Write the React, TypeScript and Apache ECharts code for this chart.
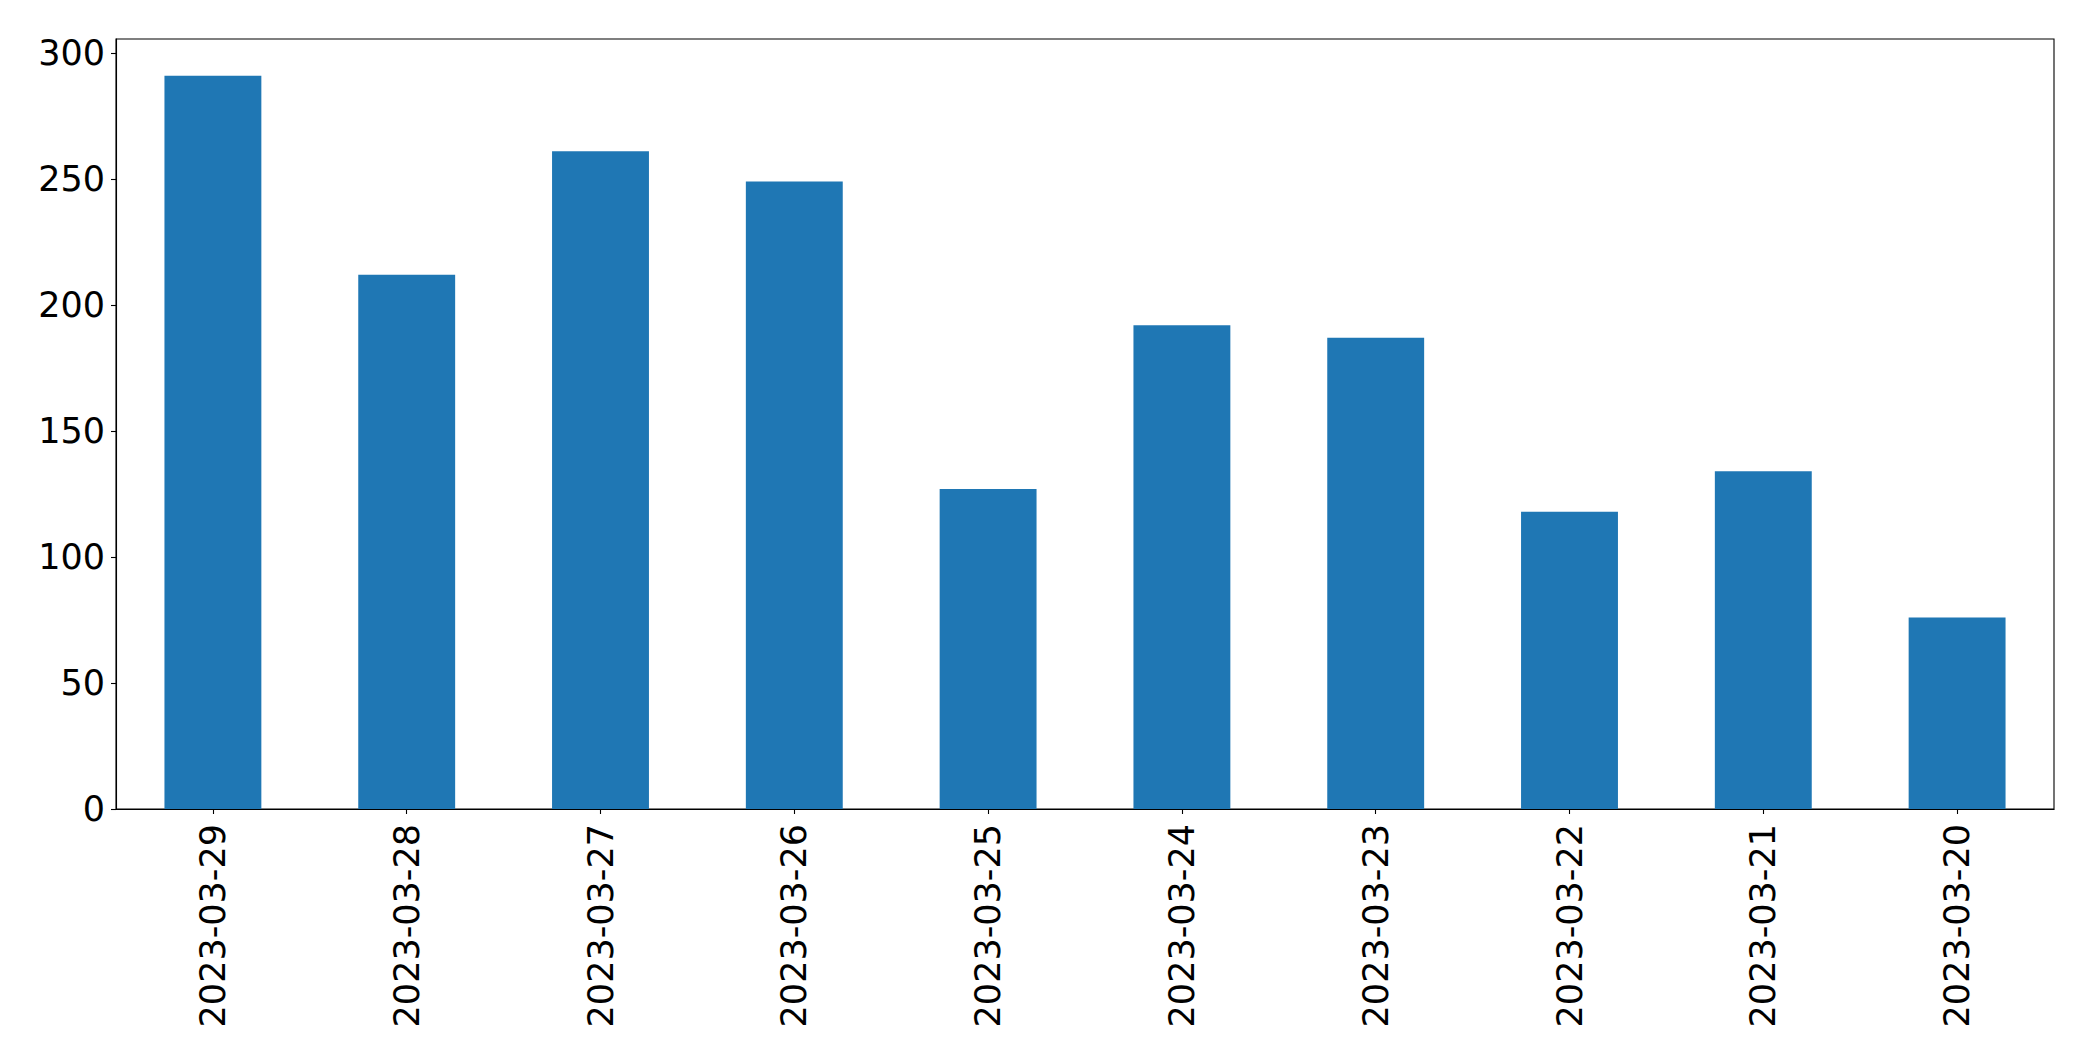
import React, { useEffect, useRef } from "react";
import * as echarts from "echarts";

const categories = [
  "2023-03-29",
  "2023-03-28",
  "2023-03-27",
  "2023-03-26",
  "2023-03-25",
  "2023-03-24",
  "2023-03-23",
  "2023-03-22",
  "2023-03-21",
  "2023-03-20",
];
const values = [291, 212, 261, 249, 127, 192, 187, 118, 134, 76];
const yTicks = [0, 50, 100, 150, 200, 250, 300];

const FONT = "DejaVu Sans";

export default function App() {
  const ref = useRef<HTMLDivElement>(null);
  useEffect(() => {
    if (!ref.current) return;
    const chart = echarts.init(ref.current, undefined, { renderer: "svg" });
    const yMax = Math.max(...values) * 1.05;
    chart.setOption({
      animation: false,
      backgroundColor: "#ffffff",
      grid: {
        left: 116,
        right: 39,
        top: 39,
        bottom: 252,
        show: true,
        borderColor: "#000000",
        borderWidth: 1.1,
        backgroundColor: "transparent",
      },
      xAxis: {
        type: "category",
        data: categories,
        boundaryGap: true,
        axisLine: { show: true, lineStyle: { color: "#000", width: 1.1 } },
        axisTick: { show: true, alignWithLabel: true, length: 5, lineStyle: { color: "#000", width: 1.1 } },
        axisLabel: {
          rotate: 90,
          interval: 0,
          margin: 15,
          fontSize: 35,
          fontFamily: FONT,
          color: "#000",
        },
        splitLine: { show: false },
      },
      yAxis: {
        type: "value",
        min: 0,
        max: yMax,
        interval: 50,
        axisLine: { show: true, lineStyle: { color: "#000", width: 1.1 } },
        axisTick: { show: true, length: 5, customValues: yTicks, lineStyle: { color: "#000", width: 1.1 } },
        axisLabel: {
          customValues: yTicks,
          margin: 11,
          padding: [7, 0, 0, 0],
          fontSize: 35,
          fontFamily: FONT,
          color: "#000",
        },
        splitLine: { show: false },
      },
      series: [
        {
          type: "bar",
          data: values,
          barWidth: "50%",
          itemStyle: { color: "#1f77b4" },
        },
      ],
    });
    return () => chart.dispose();
  }, []);
  return (
    <div
      ref={ref}
      style={{ position: "absolute", left: 0, top: 0, width: 2093, height: 1061, background: "#fff" }}
    />
  );
}
